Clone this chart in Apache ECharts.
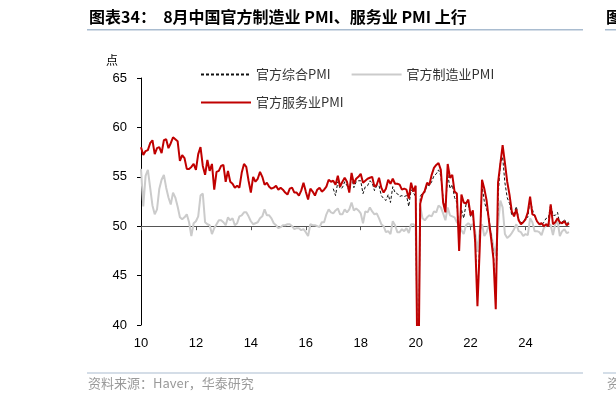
<!DOCTYPE html>
<html><head><meta charset="utf-8">
<script src="https://cdn.jsdelivr.net/npm/echarts@6/dist/echarts.min.js"></script>
<style>html,body{margin:0;padding:0;background:#fff;}#c{width:616px;height:403px;}</style>
</head><body><div id="c"></div>
<script>
// Monthly, 2010-01 .. 2025-08
const firstYear = 2010, lastYear = 2025, lastMonth = 8;
const xTickLabels = ['10','12','14','16','18','20','22','24'];
const yTicks = { min: 40, max: 65, step: 5 };

const mfgPMI = [
  55.8,52.0,55.1,55.7,53.9,52.1,51.2,51.7,53.8,54.7,55.2,53.9,
  52.9,52.2,53.4,52.9,52.0,50.9,50.7,50.9,51.2,50.4,49.0,50.3,
  50.5,51.0,53.1,53.3,50.4,50.2,50.1,49.2,49.8,50.2,50.6,50.6,
  50.4,50.1,50.9,50.6,50.8,50.1,50.3,51.0,51.1,51.4,51.4,51.0,
  50.5,50.2,50.3,50.4,50.8,51.0,51.7,51.1,51.1,50.8,50.3,50.1,
  49.8,49.9,50.1,50.1,50.2,50.2,50.0,49.7,49.8,49.8,49.6,49.7,
  49.4,49.0,50.2,50.1,50.1,50.0,49.9,50.4,50.4,51.2,51.7,51.4,
  51.3,51.6,51.8,51.2,51.2,51.7,51.4,51.7,52.4,51.6,51.8,51.6,
  51.3,50.3,51.5,51.4,51.9,51.5,51.2,51.3,50.8,50.2,50.0,49.4,
  49.5,49.2,50.5,50.1,49.4,49.4,49.7,49.5,49.8,49.3,50.2,50.2,
  50.0,35.7,52.0,50.8,50.6,50.9,51.1,51.0,51.5,51.4,52.1,51.9,
  51.3,50.6,51.9,51.1,51.0,50.9,50.4,50.1,49.6,49.2,50.1,50.3,
  50.1,50.2,49.5,47.4,49.6,50.2,49.0,49.4,50.1,49.2,48.0,47.0,
  50.1,52.6,51.9,49.2,48.8,49.0,49.3,49.7,50.2,49.5,49.4,49.0,
  49.2,49.1,50.8,50.4,49.5,49.5,49.4,49.1,49.8,50.1,50.3,50.1,
  49.1,50.2,50.5,49.0,49.5,49.7,49.3,49.4
];
const svcPMI = [
  58.0,57.2,57.6,57.7,58.4,58.7,57.3,57.9,58.0,57.4,58.7,58.8,
  57.9,58.4,59.0,58.8,58.6,56.6,57.2,56.9,55.8,55.8,56.0,56.3,
  55.7,57.3,58.0,56.1,55.2,56.7,55.6,56.3,53.7,55.5,55.6,56.1,
  56.2,54.5,55.6,54.5,54.3,53.9,54.1,53.9,55.4,56.3,56.0,54.6,
  53.4,55.0,54.5,54.8,55.5,55.0,54.2,54.4,54.0,53.8,53.9,54.1,
  53.7,53.9,53.7,53.4,53.2,53.8,53.9,53.4,53.4,53.1,53.6,54.4,
  53.5,52.7,53.8,53.5,53.1,53.7,53.9,53.5,53.7,54.0,54.7,54.5,
  54.6,54.2,55.1,54.0,54.5,54.9,54.5,53.4,55.4,54.3,54.8,55.0,
  55.3,54.4,54.6,54.8,54.9,55.0,54.0,54.2,54.9,53.9,53.4,53.8,
  54.7,54.3,54.8,54.3,54.3,54.2,53.7,53.8,53.7,52.8,54.4,53.5,
  54.1,29.6,52.3,53.2,53.6,54.4,54.2,55.2,55.9,56.2,56.4,55.7,
  52.4,51.4,56.3,54.9,55.2,53.5,53.3,47.5,53.2,52.4,52.3,52.7,
  51.1,51.6,48.4,41.9,47.8,54.7,53.8,52.6,50.6,48.7,46.7,41.6,
  54.4,56.3,58.2,56.4,54.5,53.2,51.5,51.0,51.7,50.6,50.2,50.4,
  50.7,51.4,53.0,51.2,51.1,50.5,50.2,50.3,50.0,50.2,50.0,52.2,
  50.2,50.4,50.8,50.4,50.3,50.5,50.1,50.3
];
// composite index available from 2017-01
const compositeStart = '2017-01';
const compositePMI = [
  53.8,53.1,54.5,53.8,53.9,54.5,54.1,53.5,55.1,53.9,54.5,54.6,
  54.6,53.3,54.0,54.1,54.6,54.4,53.6,54.1,54.1,53.1,52.8,52.6,
  53.2,52.4,54.0,53.4,53.3,53.0,53.1,53.0,53.1,52.0,53.7,53.4,
  53.0,28.9,53.0,53.4,53.4,54.2,54.1,54.5,55.1,55.3,55.7,55.1,
  52.8,51.6,55.3,53.8,54.2,52.9,52.4,48.9,51.7,50.8,52.2,52.2,
  51.0,51.2,48.8,42.7,48.4,54.1,52.5,51.7,50.9,49.0,47.1,42.6,
  52.9,56.4,57.0,54.4,52.9,52.3,51.1,51.3,52.0,50.7,50.4,50.3,
  50.9,50.9,52.7,51.7,51.0,50.5,50.2,50.1,50.4,50.8,50.8,52.2,
  51.1,51.1,51.4,50.2,50.4,50.7,50.2,50.5
];

const months = [];
for (let y = firstYear; y <= lastYear; y++) {
  for (let m = 1; m <= 12; m++) {
    if (y === lastYear && m > lastMonth) break;
    months.push(y + '-' + String(m).padStart(2, '0'));
  }
}
const startIdx = months.indexOf(compositeStart);
const compositeFull = months.map((_, i) => i < startIdx ? null : compositePMI[i - startIdx]);

const GL = 141, GR = 47, GT = 78, GH = 247;
const FONT = '"Liberation Sans", Arial, sans-serif';
const CJK = '"Noto Sans CJK SC", sans-serif';

const legendCommon = {
  left: 195, itemWidth: 50, itemHeight: 14,
  itemStyle: { color: 'rgba(0,0,0,0)', borderWidth: 0, opacity: 0 },
  textStyle: { fontSize: 13, color: '#333', fontFamily: CJK, padding: [0, 0, 0, 0] }
};

const chart = echarts.init(document.getElementById('c'), null, { renderer: 'canvas' });
chart.setOption({
  animation: false,
  backgroundColor: '#fff',
  grid: [
    { left: GL, right: GR, top: GT, height: GH },
    { left: GL, right: GR, top: GT, height: GH * (yTicks.max - 50) / (yTicks.max - yTicks.min) }
  ],
  legend: [
    Object.assign({ data: ['官方综合PMI', '官方制造业PMI'], top: 63, itemGap: 20 }, legendCommon),
    Object.assign({ data: ['官方服务业PMI'], top: 91 }, legendCommon)
  ],
  xAxis: [
    { type: 'category', gridIndex: 0, data: months, boundaryGap: false,
      axisLine: { show: false }, axisTick: { show: false }, splitLine: { show: false },
      axisLabel: { interval: 23, margin: 12, fontSize: 13, color: '#000', fontFamily: FONT,
        formatter: (v, i) => xTickLabels[Math.round(i / 24)] } },
    { type: 'category', gridIndex: 1, data: months, boundaryGap: false,
      axisLine: { show: true, lineStyle: { color: '#555', width: 1.2 } },
      axisTick: { show: true, interval: 23, length: 4, lineStyle: { color: '#555' } },
      axisLabel: { show: false }, splitLine: { show: false } }
  ],
  yAxis: [
    { type: 'value', gridIndex: 0, min: yTicks.min, max: yTicks.max, interval: yTicks.step,
      axisLine: { show: true, lineStyle: { color: '#000', width: 1 } },
      axisTick: { show: true, length: 4, lineStyle: { color: '#000' } },
      splitLine: { show: false },
      axisLabel: { margin: 14, fontSize: 13, color: '#000', fontFamily: FONT } },
    { type: 'value', gridIndex: 1, min: 50, max: yTicks.max, show: false }
  ],
  series: [
    { name: '官方综合PMI', type: 'line', data: compositeFull, symbol: 'none', z: 3,
      lineStyle: { color: '#111', width: 1, type: [3, 2] }, itemStyle: { color: '#111' } },
    { name: '官方制造业PMI', type: 'line', data: mfgPMI, symbol: 'none', z: 2,
      lineStyle: { color: '#cbcbcb', width: 2 }, itemStyle: { color: '#cbcbcb' } },
    { name: '官方服务业PMI', type: 'line', data: svcPMI, symbol: 'none', z: 4,
      lineStyle: { color: '#c00000', width: 2 }, itemStyle: { color: '#c00000' } }
  ],
  graphic: [
    { type: 'text', left: 89, top: 9, style: { text: '图表34：  8月中国官方制造业 PMI、服务业 PMI 上行',
      font: 'bold 16px ' + CJK, fill: '#000' } },
    { type: 'rect', shape: { x: 87, y: 29, width: 496, height: 1.5 }, style: { fill: '#a9bcd0' } },
    { type: 'rect', shape: { x: 605, y: 29, width: 11, height: 1.5 }, style: { fill: '#a9bcd0' } },
    { type: 'text', left: 606, top: 9, style: { text: '图', font: 'bold 16px ' + CJK, fill: '#000' } },
    { type: 'text', left: 106, top: 54, style: { text: '点', font: '12px ' + CJK, fill: '#000' } },
    { type: 'rect', shape: { x: 87, y: 372.5, width: 496, height: 1 }, style: { fill: '#a9bcd0' } },
    { type: 'rect', shape: { x: 603, y: 372.5, width: 13, height: 1 }, style: { fill: '#a9bcd0' } },
    { type: 'text', left: 88, top: 377, style: { text: '资料来源：Haver，华泰研究', font: '13px ' + CJK, fill: '#9a9a9a' } },
    { type: 'text', left: 607, top: 377, style: { text: '资', font: '13px ' + CJK, fill: '#9a9a9a' } }
  ]
});
</script>
</body></html>
